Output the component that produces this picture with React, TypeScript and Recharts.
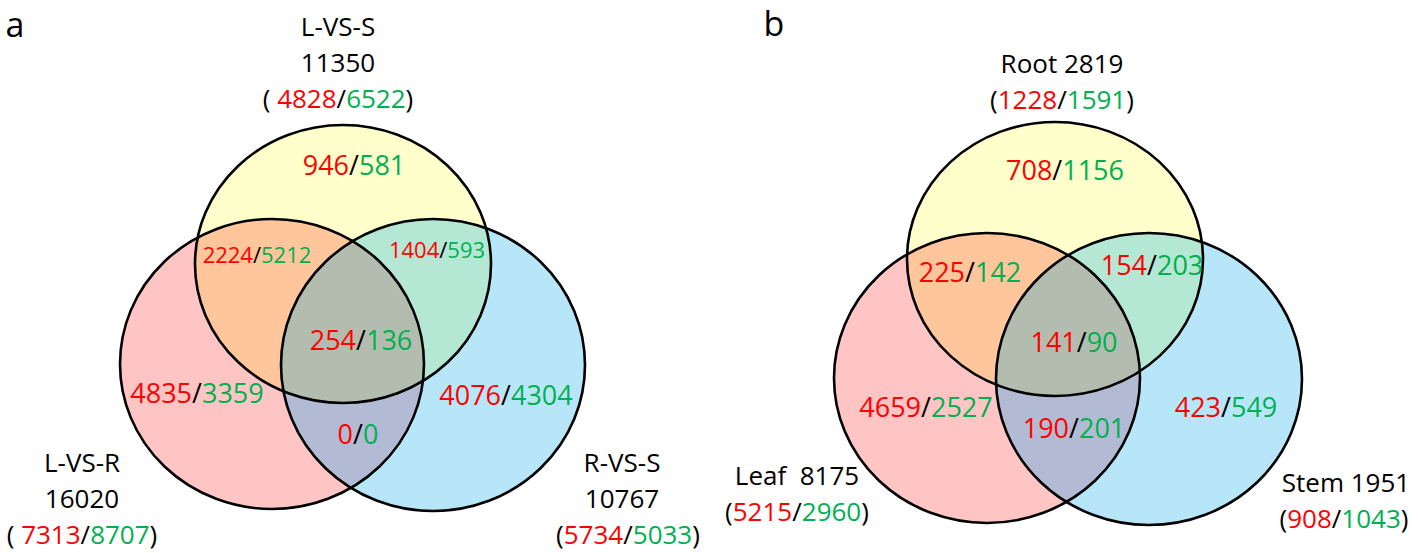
import { ScatterChart, Scatter, XAxis, YAxis } from 'recharts';

const WIDTH = 1418;
const HEIGHT = 553;
const RED = '#FF0000';
const GREEN = '#00B050';
const FONT = '"Open Sans", sans-serif';

// sets: panel a (L-VS-S, L-VS-R, R-VS-S), then panel b (Root, Leaf, Stem)
const setNames = ['L-VS-S', 'L-VS-R', 'R-VS-S', 'Root', 'Leaf', 'Stem'];
const setTotals = [11350, 16020, 10767, 2819, 8175, 1951];
const setUp = [4828, 7313, 5734, 1228, 5215, 908];
const setDown = [6522, 8707, 5033, 1591, 2960, 1043];

// regions: top only, top+left, top+right, all three, left only, right only, left+right
const regionUpA = [946, 2224, 1404, 254, 4835, 4076, 0];
const regionDownA = [581, 5212, 593, 136, 3359, 4304, 0];
const regionUpB = [708, 225, 154, 141, 4659, 423, 190];
const regionDownB = [1156, 142, 203, 90, 2527, 549, 201];

const panelLetters = ['a', 'b'];

// layout (units = px of the chart area)
const ellipseCx = [343, 272, 433, 1055, 987, 1149];
const ellipseCy = [264, 364, 365, 259, 378, 379];
const ellipseRx = [148, 152, 152, 148, 153, 153];
const ellipseRy = [139, 145, 146, 137, 145, 146];
const ellipseFill = ['#FFFFCC', '#FFC5C5', '#B7E6F8'];
const pairFill = ['#FFC59B', '#B4E8D4', '#B3BAD3'];
const centerFill = '#B3BDAF';

const regionX = [354, 257, 437, 361, 197, 506, 358, 1065, 970, 1152, 1074, 926, 1226, 1074];
const regionY = [165, 255, 250, 340, 393, 395, 434, 170, 272, 265, 342, 407, 407, 428];
const regionSize = [27, 22, 22, 27, 27, 27, 27, 27, 27, 27, 27, 27, 27, 27];

const titleX = [338, 82, 622, 1062, 797, 1346];
const countsX = [338, 82, 628, 1062, 797, 1344];
const titleY = [27, 463, 463, 64, 476, 483];
const LINE_GAP = 36;
const TITLE_SIZE = 26;
const letterX = [15, 774];
const letterY = [24.5, 23.5];

type Part = { t: string; c: string };
type TextPoint = { x: number; y: number; size: number; parts: Part[] };

const ellipses = ellipseCx.map((x, i) => ({
  id: i,
  x,
  y: ellipseCy[i],
  rx: ellipseRx[i],
  ry: ellipseRy[i],
  fill: ellipseFill[i % 3],
}));

const overlaps: any[] = [];
[0, 3].forEach((o) => {
  const pairs = [
    [o, o + 1],
    [o, o + 2],
    [o + 1, o + 2],
  ];
  pairs.forEach(([a, b], k) => {
    overlaps.push({ ...ellipses[b], fill: pairFill[k], clipA: a });
  });
  overlaps.push({ ...ellipses[o], fill: centerFill, clipA: o + 1, clipB: o + 2 });
});

const counts = (up: number, down: number, space: boolean): Part[] => [
  { t: space ? '( ' : '(', c: '#000' },
  { t: String(up), c: RED },
  { t: '/', c: '#000' },
  { t: String(down), c: GREEN },
  { t: ')', c: '#000' },
];

const texts: TextPoint[] = [];
setNames.forEach((name, i) => {
  if (i < 3) {
    texts.push({ x: titleX[i], y: titleY[i], size: TITLE_SIZE, parts: [{ t: name, c: '#000' }] });
    texts.push({ x: titleX[i], y: titleY[i] + LINE_GAP, size: TITLE_SIZE, parts: [{ t: String(setTotals[i]), c: '#000' }] });
    texts.push({ x: countsX[i], y: titleY[i] + 2 * LINE_GAP, size: TITLE_SIZE, parts: counts(setUp[i], setDown[i], i !== 2) });
  } else {
    const gap = name === 'Leaf' ? '\u00a0\u00a0' : ' ';
    texts.push({ x: titleX[i], y: titleY[i], size: TITLE_SIZE, parts: [{ t: `${name}${gap}${setTotals[i]}`, c: '#000' }] });
    texts.push({ x: countsX[i], y: titleY[i] + LINE_GAP, size: TITLE_SIZE, parts: counts(setUp[i], setDown[i], false) });
  }
});
const regionUp = [...regionUpA, ...regionUpB];
const regionDown = [...regionDownA, ...regionDownB];
regionUp.forEach((up, i) => {
  texts.push({
    x: regionX[i],
    y: regionY[i],
    size: regionSize[i],
    parts: [
      { t: String(up), c: RED },
      { t: '/', c: '#000' },
      { t: String(regionDown[i]), c: GREEN },
    ],
  });
});
panelLetters.forEach((l, i) => {
  texts.push({ x: letterX[i], y: letterY[i], size: 34, parts: [{ t: l, c: '#000' }] });
});

const EllipseShape = (props: any) => {
  const { cx, cy, payload } = props;
  return (
    <g>
      <defs>
        <clipPath id={`venn-clip-${payload.id}`}>
          <ellipse cx={cx} cy={cy} rx={payload.rx} ry={payload.ry} />
        </clipPath>
      </defs>
      <ellipse cx={cx} cy={cy} rx={payload.rx} ry={payload.ry} fill={payload.fill} />
    </g>
  );
};

const OverlapShape = (props: any) => {
  const { cx, cy, payload } = props;
  const inner = (
    <ellipse
      cx={cx}
      cy={cy}
      rx={payload.rx}
      ry={payload.ry}
      fill={payload.fill}
      clipPath={`url(#venn-clip-${payload.clipA})`}
    />
  );
  if (payload.clipB === undefined) return inner;
  return <g clipPath={`url(#venn-clip-${payload.clipB})`}>{inner}</g>;
};

const OutlineShape = (props: any) => {
  const { cx, cy, payload } = props;
  return <ellipse cx={cx} cy={cy} rx={payload.rx} ry={payload.ry} fill="none" stroke="#000" strokeWidth={2.6} />;
};

const TextShape = (props: any) => {
  const { cx, cy, payload } = props;
  return (
    <text
      x={cx}
      y={cy + payload.size * 0.36}
      textAnchor="middle"
      fontSize={payload.size}
      fontFamily={FONT}
      fill="#000"
    >
      {payload.parts.map((p: Part, k: number) => (
        <tspan key={k} fill={p.c} style={{ whiteSpace: 'pre' }}>
          {p.t}
        </tspan>
      ))}
    </text>
  );
};

export default function App() {
  return (
    <div style={{ position: 'absolute', left: 0, top: 0, width: WIDTH, height: HEIGHT, background: '#fff' }}>
      <ScatterChart width={WIDTH} height={HEIGHT} margin={{ top: 0, right: 0, bottom: 0, left: 0 }}>
        <XAxis type="number" dataKey="x" domain={[0, WIDTH]} hide allowDataOverflow />
        <YAxis type="number" dataKey="y" domain={[0, HEIGHT]} reversed hide allowDataOverflow />
        <Scatter data={ellipses} shape={EllipseShape} isAnimationActive={false} />
        <Scatter data={overlaps} shape={OverlapShape} isAnimationActive={false} />
        <Scatter data={ellipses} shape={OutlineShape} isAnimationActive={false} />
        <Scatter data={texts} shape={TextShape} isAnimationActive={false} />
      </ScatterChart>
    </div>
  );
}
